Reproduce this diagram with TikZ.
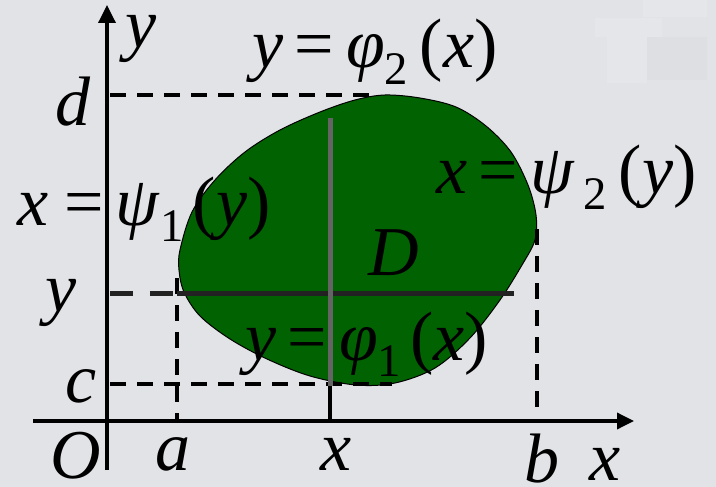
\documentclass[tikz,border=0pt]{standalone}
\usepackage{graphicx}
\usepackage{fontspec}
\setmainfont{Liberation Serif}
\usetikzlibrary{arrows.meta}
\definecolor{bgc}{RGB}{226,227,231}
\definecolor{bglight}{RGB}{229,230,233}
\definecolor{bgdark}{RGB}{222,223,227}
\definecolor{blobc}{RGB}{0,98,0}
\definecolor{lineg}{RGB}{100,100,100}
\definecolor{lined}{RGB}{34,34,34}
\newcommand\lt[1]{\scalebox{2.3333}{\fontsize{30}{30}\selectfont #1}}
\newcommand\sbs[1]{\raisebox{-6.9pt}{\fontsize{20}{20}\selectfont #1}}
\tikzset{
  lbl/.style={inner sep=0pt, anchor=base west},
  dsh/.style={line width=4pt, dash pattern=on 16pt off 11pt},
  axisline/.style={line width=3.5pt, -{Triangle[length=18pt,width=17pt]}},
}
\begin{document}
\begin{tikzpicture}[x=1pt,y=-1pt]
\useasboundingbox (0,0) rectangle (716,487);
\fill[bgc] (0,0) rectangle (716,487);
\fill[bglight] (595,18) rectangle (662,37);
\fill[bglight] (607,27) rectangle (647,83);
\fill[bglight] (643,0) rectangle (707,17);
\fill[bgdark] (647,37) rectangle (707,80);

% region D
\draw[fill=blobc, draw=black, line width=1pt] plot[smooth cycle, tension=0.55] coordinates {
 (180,250) (192,212) (215,180) (245,152) (280,130) (320,112) (355,100) (385,95)
 (420,98) (456,107) (486,126) (511,152) (528,185) (536,215) (535,240)
 (522,265) (500,300) (470,338) (435,368) (395,383) (356,385)
 (310,376) (267,359) (230,339) (200,316) (184,292) (179,270)};

% named points
\coordinate (yaxB) at (107,470);
\coordinate (yaxT) at (107,5);
\coordinate (xaxL) at (33,421);
\coordinate (xaxR) at (634,421);
\coordinate (dL) at (110,95);
\coordinate (dR) at (378,95);
\coordinate (cL) at (110,384);
\coordinate (cR) at (392,384);
\coordinate (aT) at (177,278);
\coordinate (aB) at (177,419);
\coordinate (bT) at (537,229);
\coordinate (bB) at (537,414);
\coordinate (yL) at (110,293);
\coordinate (yM) at (177,293);
\coordinate (yR) at (514,293);
\coordinate (xT) at (330,118);
\coordinate (xM) at (330,386);
\coordinate (xB) at (330,421);

% dashed guides
\draw[dsh] (dL) -- (dR);
\draw[dsh] (cL) -- (cR);
\draw[dsh] (aT) -- (aB);
\draw[dsh] (bT) -- (bB);
\draw[line width=5pt, lined, dash pattern=on 23pt off 17pt] (yL) -- (yM);
\draw[line width=5pt, lined] (yM) -- (yR);
\draw[line width=5pt, lineg] (xT) -- (xM);
\draw[line width=4pt, black] (xM) -- (xB);

% axes
\draw[axisline] (yaxB) -- (yaxT);
\draw[line width=3.5pt, -{Triangle[length=17pt,width=16pt]}] (xaxL) -- (xaxR);

% labels
\node[lbl] (ylab) at (125,48) {\lt{\textit{y}}};
\node[lbl] (phi2) at (252,68) {\lt{\textit{y}\hspace{5pt}=\hspace{5pt}\textit{φ}\sbs{2}\hspace{5pt}(\textit{x})}};
\node[lbl] (dlab) at (55,125) {\lt{\textit{d}}};
\node[lbl] (psi1) at (17,225) {\lt{\textit{x}\hspace{7pt}=\hspace{5pt}\textit{ψ}\sbs{1}\hspace{4pt}(\textit{y})}};
\node[lbl] (psi2) at (436,193) {\lt{\textit{x}\hspace{5pt}=\hspace{5pt}\textit{ψ}\hspace{4pt}\sbs{2}\hspace{5pt}(\textit{y})}};
\node[lbl] (Dlab) at (368,275) {\lt{\textit{D}}};
\node[lbl] (ylab2) at (45,311) {\lt{\textit{y}}};
\node[lbl] (phi1) at (245,360) {\lt{\textit{y}\hspace{5pt}=\hspace{5pt}\textit{φ}\sbs{1}\hspace{4pt}(\textit{x})}};
\node[lbl] (clab) at (65,402) {\lt{\textit{c}}};
\node[lbl] (olab) at (50,478) {\lt{\textit{O}}};
\node[lbl] (alab) at (155,470) {\lt{\textit{a}}};
\node[lbl] (xlab) at (320,470) {\lt{\textit{x}}};
\node[lbl] (blab) at (524,482) {\lt{\textit{b}}};
\node[lbl] (xaxlab) at (589,480) {\lt{\textit{x}}};
\end{tikzpicture}
\end{document}
